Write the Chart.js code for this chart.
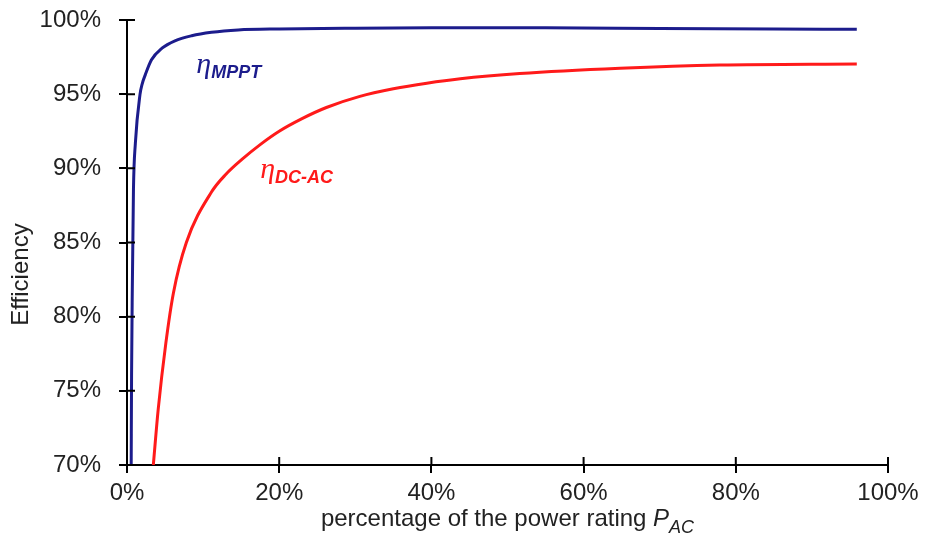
<!DOCTYPE html>
<html>
<head>
<meta charset="utf-8">
<script src="https://cdn.jsdelivr.net/npm/chart.js@4.4.1/dist/chart.umd.min.js"></script>
<style>
  html, body { margin: 0; padding: 0; background: #fff; }
  #wrap { width: 929px; height: 545px; }
</style>
</head>
<body>
<div id="wrap"><canvas id="effChart" width="929" height="545"></canvas></div>
<script>
// values (x = % of power rating, y = efficiency %)
const mpptX   = [0.55, 0.6, 0.7, 0.85, 1.1, 1.7, 2.0, 2.4, 3.2, 4.6, 6.3, 8.5, 11.1, 14.6, 20, 30, 40, 55, 70, 85, 95.9];
const mpptEff = [70, 76, 82, 88.6, 91.7, 94.95, 95.7, 96.3, 97.3, 98.1, 98.6, 98.94, 99.17, 99.33, 99.4, 99.45, 99.47, 99.47, 99.43, 99.4, 99.37];
const dcacX   = [3.46, 4.1, 5.1, 6.1, 7.8, 11.1, 13, 15.1, 17.5, 20, 23, 26.2, 30.6, 35, 39.4, 43.8, 51.6, 64.8, 77.9, 95.9];
const dcacEff = [70, 73.75, 78.2, 81.6, 85.0, 88.4, 89.6, 90.6, 91.6, 92.5, 93.35, 94.1, 94.85, 95.36, 95.74, 96.04, 96.39, 96.75, 96.97, 97.04];
const xTicks = [0, 20, 40, 60, 80, 100];
const yTicks = [70, 75, 80, 85, 90, 95, 100];

const FONT = "'Liberation Sans', Arial, sans-serif";
const TEXT = "#222";

function toPoints(xs, ys) {
  return xs.map((x, i) => ({ x: x, y: ys[i] }));
}

// ticks cross the axis: draw the inner half, Chart.js draws the outer half
const crossTicks = {
  id: "crossTicks",
  afterDatasetsDraw(chart) {
    const { ctx, chartArea, scales } = chart;
    const len = 8;
    ctx.save();
    ctx.strokeStyle = "#000";
    ctx.lineWidth = 2;
    ctx.beginPath();
    scales.x.ticks.forEach(t => {
      const px = scales.x.getPixelForValue(t.value);
      ctx.moveTo(px, chartArea.bottom);
      ctx.lineTo(px, chartArea.bottom - len);
    });
    scales.y.ticks.forEach(t => {
      const py = scales.y.getPixelForValue(t.value);
      ctx.moveTo(chartArea.left, py);
      ctx.lineTo(chartArea.left + len, py);
    });
    ctx.stroke();
    ctx.restore();
  }
};

// curve names and axis titles (with italic / subscript parts)
const labels = {
  id: "labels",
  afterDraw(chart) {
    const { ctx, chartArea, scales } = chart;
    ctx.save();
    ctx.textBaseline = "alphabetic";
    ctx.textAlign = "left";

    function etaLabel(xv, yv, sub, color) {
      let x = scales.x.getPixelForValue(xv);
      const y = scales.y.getPixelForValue(yv);
      ctx.fillStyle = color;
      ctx.font = "italic 30px 'Liberation Serif', 'DejaVu Serif', serif";
      ctx.fillText("η", x, y - 5);
      x += ctx.measureText("η").width;
      ctx.font = "italic bold 18px " + FONT;
      ctx.fillText(sub, x, y);
    }
    etaLabel(9.1, 96.1, "MPPT", "#1c1c8c");
    etaLabel(17.5, 89.0, "DC-AC", "#ff1a1a");

    // x title
    ctx.fillStyle = TEXT;
    const main = "percentage of the power rating ";
    ctx.font = "24px " + FONT;
    const w1 = ctx.measureText(main).width;
    ctx.font = "italic 24px " + FONT;
    const w2 = ctx.measureText("P").width;
    ctx.font = "italic 18px " + FONT;
    const w3 = ctx.measureText("AC").width;
    let x = (chartArea.left + chartArea.right) / 2 - (w1 + w2 + w3) / 2;
    const by = chartArea.bottom + 61;
    ctx.font = "24px " + FONT;
    ctx.fillText(main, x, by);
    x += w1;
    ctx.font = "italic 24px " + FONT;
    ctx.fillText("P", x, by);
    x += w2;
    ctx.font = "italic 18px " + FONT;
    ctx.fillText("AC", x, by + 7);

    // y title
    ctx.translate(21, (chartArea.top + chartArea.bottom) / 2 + 32);
    ctx.rotate(-Math.PI / 2);
    ctx.textAlign = "center";
    ctx.textBaseline = "middle";
    ctx.font = "24px " + FONT;
    ctx.fillText("Efficiency", 0, 0);
    ctx.restore();
  }
};

new Chart(document.getElementById("effChart").getContext("2d"), {
  type: "scatter",
  data: {
    datasets: [
      {
        label: "ηMPPT",
        data: toPoints(mpptX, mpptEff),
        showLine: true,
        borderColor: "#1c1c8c",
        borderWidth: 3,
        pointRadius: 0,
        cubicInterpolationMode: "monotone",
      },
      {
        label: "ηDC-AC",
        data: toPoints(dcacX, dcacEff),
        showLine: true,
        borderColor: "#ff1a1a",
        borderWidth: 3,
        pointRadius: 0,
        cubicInterpolationMode: "monotone",
      },
    ],
  },
  options: {
    responsive: false,
    animation: false,
    devicePixelRatio: 1,
    layout: { padding: { top: 20, right: 41, left: 0, bottom: 0 } },
    plugins: {
      legend: { display: false },
      tooltip: { enabled: false },
    },
    scales: {
      x: {
        type: "linear",
        min: 0,
        max: 100,
        afterBuildTicks: s => { s.ticks = xTicks.map(v => ({ value: v })); },
        afterFit: s => { s.height = 80; s.paddingLeft = 0; s.paddingRight = 0; },
        ticks: {
          callback: v => v + "%",
          color: TEXT,
          font: { family: FONT, size: 24 },
          padding: 6,
          maxRotation: 0,
        },
        grid: { drawOnChartArea: false, tickLength: 8, color: "#000", lineWidth: 2 },
        border: { color: "#000", width: 2 },
      },
      y: {
        min: 70,
        max: 100,
        afterBuildTicks: s => { s.ticks = yTicks.map(v => ({ value: v })); },
        afterFit: s => { s.width = 127; s.paddingTop = 0; s.paddingBottom = 0; },
        ticks: {
          callback: v => v + "%",
          color: TEXT,
          font: { family: FONT, size: 24 },
          padding: 18,
        },
        grid: { drawOnChartArea: false, tickLength: 8, color: "#000", lineWidth: 2 },
        border: { color: "#000", width: 2 },
      },
    },
  },
  plugins: [crossTicks, labels],
});
</script>
</body>
</html>
